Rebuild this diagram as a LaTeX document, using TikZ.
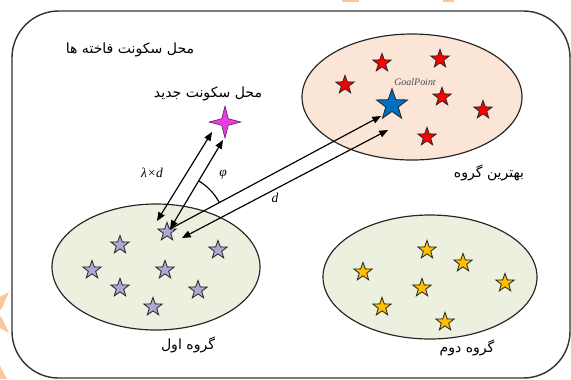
\documentclass[tikz,border=0pt]{standalone}
\usepackage{fontspec}
\setmainfont{Liberation Serif}
\newfontfamily\fafont[Script=Arabic]{DejaVu Sans}
\TeXXeTstate=1
\usetikzlibrary{shapes.geometric,arrows.meta}

\definecolor{peach}{HTML}{FBE5D6}
\definecolor{sage}{HTML}{EBF1DE}
\definecolor{lav}{HTML}{B4A7D6}
\definecolor{gold}{HTML}{FFC000}
\definecolor{bestred}{HTML}{FF0000}
\definecolor{goalblue}{HTML}{0070C0}
\definecolor{newmag}{HTML}{E83EE0}
\definecolor{smudge}{HTML}{F9C79B}

\tikzset{
  group/.style={ellipse, draw=black!85, line width=1pt, inner sep=0pt},
  bird/.style={star, star points=5, star point ratio=2.5, draw=black!85,
    line width=0.7pt, inner sep=0pt, minimum size=0.58cm},
  goalstar/.style={bird, fill=goalblue, minimum size=0.98cm},
  newstar/.style={star, star points=4, star point ratio=3.4, draw=black!60!newmag,
    line width=0.5pt, fill=newmag, inner sep=0pt, minimum size=0.95cm},
  falabel/.style={font=\fafont\fontsize{12}{14}\selectfont, inner sep=0pt},
  mathlabel/.style={font=\itshape\fontsize{11.5}{13}\selectfont, inner sep=0pt},
  link/.style={line width=1pt, black},
  onehead/.style={link, -{Triangle[length=2.6mm,width=2.1mm]}},
  twohead/.style={link, {Triangle[length=2.6mm,width=2.1mm]}-{Triangle[length=2.6mm,width=2.1mm]}},
}

\begin{document}
\begin{tikzpicture}[x=0.03cm, y=-0.03cm]
  \useasboundingbox (0,0) rectangle (571,379);

  % stray orange marks at the edges
  \fill[smudge] (342,0) rectangle (359,1.5);
  \fill[smudge] (443,0) rectangle (454,1.5);
  \fill[smudge] (0,297) -- (9,292) -- (2,308) -- (0,310) -- cycle;
  \fill[smudge] (0,316) -- (2,318) -- (9,333) -- (0,328) -- cycle;
  \fill[smudge] (0,366) -- (7,379) -- (0,379) -- cycle;

  % habitat frame
  \draw[line width=1.2pt, black!80, rounded corners=1.4cm] (12,11) rectangle (570,378);
  \node[falabel] (habitat) at (130,50) {\beginR محل سکونت فاخته ها\endR};

  % groups
  \node[group, fill=peach, minimum width=6.6cm, minimum height=3.78cm] (best) at (412,97) {};
  \node[group, fill=sage, minimum width=6.24cm, minimum height=3.78cm] (first) at (156,267) {};
  \node[group, fill=sage, minimum width=6.42cm, minimum height=3.72cm] (second) at (430,277) {};

  \node[falabel] (bestlbl) at (489,173) {\beginR بهترین گروه\endR};
  \node[falabel] (firstlbl) at (188,345) {\beginR گروه اول\endR};
  \node[falabel] (secondlbl) at (467,348) {\beginR گروه دوم\endR};

  % best group
  \node[bird, fill=bestred] (r1) at (345,85) {};
  \node[bird, fill=bestred] (r2) at (382,63) {};
  \node[bird, fill=bestred] (r3) at (440,59) {};
  \node[bird, fill=bestred] (r4) at (442,97) {};
  \node[bird, fill=bestred] (r5) at (483,110) {};
  \node[bird, fill=bestred] (r6) at (427,137) {};
  \node[goalstar] (goal) at (392,105) {};
  \node[font=\itshape\fontsize{8.5}{10}\selectfont, text=black!70, inner sep=0pt] (goallbl) at (415,82) {GoalPoint};

  % first group
  \node[bird, fill=lav] (cuckoo) at (167,232) {};
  \node[bird, fill=lav] (p2) at (120,245) {};
  \node[bird, fill=lav] (p3) at (218,250) {};
  \node[bird, fill=lav] (p4) at (92,270) {};
  \node[bird, fill=lav] (p5) at (165,270) {};
  \node[bird, fill=lav] (p6) at (120,288) {};
  \node[bird, fill=lav] (p7) at (198,290) {};
  \node[bird, fill=lav] (p8) at (153,307) {};

  % second group
  \node[bird, fill=gold] (y1) at (427,250) {};
  \node[bird, fill=gold] (y2) at (463,263) {};
  \node[bird, fill=gold] (y3) at (363,272) {};
  \node[bird, fill=gold] (y4) at (505,283) {};
  \node[bird, fill=gold] (y5) at (422,288) {};
  \node[bird, fill=gold] (y6) at (382,307) {};
  \node[bird, fill=gold] (y7) at (445,322) {};

  % new habitat
  \node[newstar] (newhab) at (225,122) {};
  \node[falabel] (newlbl) at (208,94) {\beginR محل سکونت جدید\endR};

  % movement geometry
  \coordinate (lamS) at (157,221);
  \coordinate (lamE) at (212,132);
  \coordinate (cTip) at (170,229);
  \coordinate (devE) at (223,140);
  \coordinate (goalTip) at (381,116);
  \coordinate (dS) at (182,238);
  \coordinate (dE) at (388,130);

  \draw[twohead] (lamS) -- (lamE);
  \draw[twohead] (cTip) -- (devE);
  \draw[onehead] (cTip) -- (goalTip);
  \draw[twohead] (dS) -- (dE);
  \draw[link] (cTip) ++(28:1.68cm) arc[start angle=28, end angle=59, radius=1.68cm];

  \node[mathlabel] (lamlbl) at (152,173) {λ×d};
  \node[mathlabel] (philbl) at (223,175) {φ};
  \node[mathlabel] (dlbl) at (275,198) {d};
\end{tikzpicture}
\end{document}
